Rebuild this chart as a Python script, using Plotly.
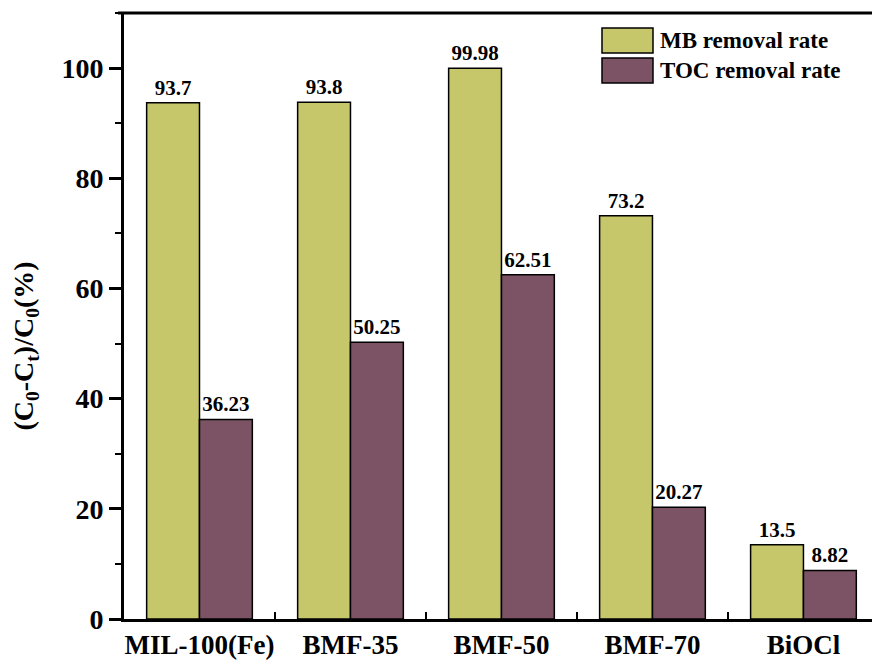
import plotly.graph_objects as go

# Samples and removal rates (%)
samples = ["MIL-100(Fe)", "BMF-35", "BMF-50", "BMF-70", "BiOCl"]
mb_removal = [93.7, 93.8, 99.98, 73.2, 13.5]
toc_removal = [36.23, 50.25, 62.51, 20.27, 8.82]
mb_labels = ["93.7", "93.8", "99.98", "73.2", "13.5"]
toc_labels = ["36.23", "50.25", "62.51", "20.27", "8.82"]
series_names = ["MB removal rate", "TOC removal rate"]
y_ticks = [0, 20, 40, 60, 80, 100]

MB_COLOR = "#C6C66B"
TOC_COLOR = "#7B5364"
FONT = "Times New Roman, Liberation Serif, serif"

fig = go.Figure()
for name, vals, labels, color in [
    (series_names[0], mb_removal, mb_labels, MB_COLOR),
    (series_names[1], toc_removal, toc_labels, TOC_COLOR),
]:
    fig.add_trace(go.Bar(
        x=samples, y=vals, name=name,
        marker=dict(color=color, line=dict(color="black", width=1.5)),
        text=["<b>%s</b>" % t for t in labels],
        textposition="outside",
        textfont=dict(family=FONT, size=21, color="black"),
        cliponaxis=False,
        showlegend=False,
    ))

fig.update_layout(
    width=872, height=660,
    margin=dict(l=124, r=0, t=13, b=41),
    paper_bgcolor="white", plot_bgcolor="white",
    barmode="group", bargap=0.3, bargroupgap=0,
    font=dict(family=FONT, color="black"),
    xaxis=dict(
        range=[-0.5, 4.454],
        showline=True, linecolor="black", linewidth=3,
        ticks="inside", tickson="boundaries", ticklen=7, tickwidth=2,
        tickcolor="black", tickangle=0, automargin=False,
        tickfont=dict(family=FONT, size=27, color="black"),
        tickprefix="<b>", ticksuffix="</b>",
        showgrid=False, zeroline=False,
    ),
    yaxis=dict(
        range=[0, 110], automargin=False,
        tickvals=y_ticks,
        ticktext=["<b>%d</b>" % v for v in y_ticks],
        showline=True, linecolor="black", linewidth=3,
        ticks="outside", ticklen=12, tickwidth=2.5, tickcolor="black",
        minor=dict(dtick=10, ticks="outside", ticklen=6, tickwidth=2,
                   tickcolor="black", showgrid=False),
        tickfont=dict(family=FONT, size=28, color="black"),
        showgrid=False, zeroline=False,
    ),
)

# Top frame line
fig.add_shape(type="line", xref="paper", yref="paper",
              x0=-0.008, x1=1, y0=1, y1=1,
              line=dict(color="black", width=3))

# Y-axis title with subscripts
fig.add_annotation(
    xref="paper", yref="paper", x=-0.132, y=0.45,
    text="<b>(C<sub>0</sub>-C<sub>t</sub>)/C<sub>0</sub>(%)</b>",
    textangle=-90, showarrow=False,
    font=dict(family=FONT, size=28, color="black"),
    xanchor="center", yanchor="middle",
)

# Legend: swatches and labels
legend_items = [(series_names[0], MB_COLOR), (series_names[1], TOC_COLOR)]
plot_w = 872 - 124
plot_h = 660 - 13 - 41
sw_x0, sw_x1 = (602 - 124) / plot_w, (653 - 124) / plot_w
for i, (name, color) in enumerate(legend_items):
    top_px = 28 + i * 30
    y1 = 1 - (top_px - 13) / plot_h
    y0 = 1 - (top_px + 25 - 13) / plot_h
    fig.add_shape(type="rect", xref="paper", yref="paper",
                  x0=sw_x0, x1=sw_x1, y0=y0, y1=y1,
                  fillcolor=color, line=dict(color="black", width=1.5))
    fig.add_annotation(xref="paper", yref="paper",
                       x=(658 - 124) / plot_w, y=(y0 + y1) / 2,
                       text="<b>%s</b>" % name, showarrow=False,
                       xanchor="left", yanchor="middle",
                       font=dict(family=FONT, size=23, color="black"))

fig.write_html("out.html")
